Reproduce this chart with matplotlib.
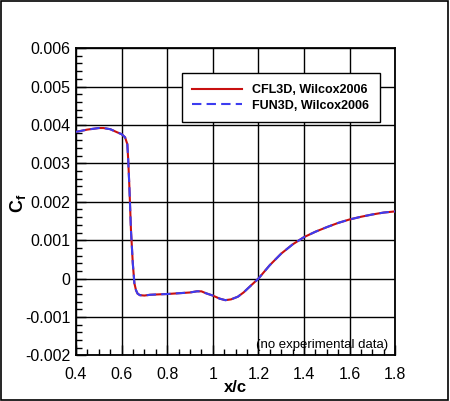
import matplotlib
matplotlib.use('Agg')
import matplotlib.pyplot as plt
from matplotlib.patches import Rectangle

plt.rcParams['font.family'] = ['Liberation Sans', 'DejaVu Sans']
plt.rcParams['mathtext.fontset'] = 'custom'
plt.rcParams['mathtext.bf'] = 'Liberation Sans:bold'
plt.rcParams['mathtext.rm'] = 'Liberation Sans'

# ---------- data ----------
xc = [0.40, 0.45, 0.50, 0.52, 0.55, 0.58, 0.60, 0.615, 0.625, 0.629,
      0.634, 0.641, 0.649, 0.656, 0.663, 0.670, 0.68, 0.70, 0.725, 0.76,
      0.80, 0.85, 0.90, 0.93, 0.95, 0.97, 1.00, 1.03, 1.055, 1.08,
      1.11, 1.135, 1.16, 1.20, 1.25, 1.30, 1.35, 1.40, 1.45, 1.50,
      1.55, 1.60, 1.65, 1.70, 1.75, 1.80]
cf_cfl3d = [0.00382, 0.00388, 0.00392, 0.00392, 0.00389, 0.00381, 0.00376, 0.00368, 0.00350, 0.00308,
            0.00239, 0.00126, 0.00040, -0.00012, -0.00030, -0.00039, -0.00043, -0.00044, -0.00042, -0.00041,
            -0.00040, -0.00038, -0.00036, -0.00033, -0.00033, -0.00038, -0.00044, -0.00052, -0.00056, -0.00054,
            -0.00047, -0.00036, -0.00022, 0.00000, 0.00035, 0.00065, 0.00089, 0.00108, 0.00122, 0.00134,
            0.00145, 0.00154, 0.00161, 0.00167, 0.00172, 0.00175]
cf_fun3d = [0.00382, 0.00388, 0.00392, 0.00392, 0.00389, 0.00381, 0.00376, 0.00368, 0.00350, 0.00308,
            0.00239, 0.00126, 0.00040, -0.00012, -0.00030, -0.00039, -0.00043, -0.00044, -0.00042, -0.00041,
            -0.00040, -0.00038, -0.00036, -0.00033, -0.00033, -0.00038, -0.00044, -0.00052, -0.00056, -0.00054,
            -0.00047, -0.00036, -0.00022, 0.00000, 0.00035, 0.00065, 0.00089, 0.00108, 0.00122, 0.00134,
            0.00145, 0.00154, 0.00161, 0.00167, 0.00172, 0.00175]
labels = ['CFL3D, Wilcox2006', 'FUN3D, Wilcox2006']
xticks = [0.4, 0.6, 0.8, 1.0, 1.2, 1.4, 1.6, 1.8]
xticklabels = ['0.4', '0.6', '0.8', '1', '1.2', '1.4', '1.6', '1.8']
yticks = [-0.002, -0.001, 0, 0.001, 0.002, 0.003, 0.004, 0.005, 0.006]
yticklabels = ['-0.002', '-0.001', '0', '0.001', '0.002', '0.003', '0.004', '0.005', '0.006']

# ---------- plot ----------
fig = plt.figure(figsize=(4.5, 4.01), dpi=100)
ax = fig.add_axes([0.169, 0.1135, 0.709, 0.7665])

ax.plot(xc, cf_cfl3d, color='#c81010', lw=1.5, label=labels[0], zorder=3)
ax.plot(xc, cf_fun3d, color='#3c3cf0', lw=1.5, dashes=(4.5, 2.5), label=labels[1], zorder=4)

ax.set_xlim(0.4, 1.8)
ax.set_ylim(-0.002, 0.006)
ax.set_xticks(xticks)
ax.set_xticklabels(xticklabels)
ax.set_yticks(yticks)
ax.set_yticklabels(yticklabels)
ax.set_xticks([0.4 + 0.05 * i for i in range(29)], minor=True)
ax.set_yticks([-0.002 + 0.0002 * i for i in range(41)], minor=True)
ax.tick_params(which='both', direction='in', top=False, right=False, width=1, color='black')
ax.tick_params(which='major', length=7, labelsize=11.5)
ax.tick_params(axis='y', which='major', pad=4)
ax.tick_params(axis='x', which='major', pad=8)
ax.tick_params(which='minor', length=4)
ax.grid(True, which='major', color='black', lw=1)
for s in ax.spines.values():
    s.set_linewidth(1.3)

ax.text(0.5, -0.105, 'x/c', transform=ax.transAxes, ha='center', va='center',
        fontsize=12, fontweight='bold')
fig.text(18 / 450, 1 - 203 / 401, r'$\mathbf{C}_{\mathbf{f}}$', rotation=90, ha='center', va='center', fontsize=13)
ax.text(322, -0.00173, '(no experimental data)', ha='center', va='center', fontsize=9.5,
        transform=matplotlib.transforms.blended_transform_factory(
            matplotlib.transforms.IdentityTransform(), ax.transData))

leg = ax.legend(loc='upper left', bbox_to_anchor=(0.331, 0.918), borderaxespad=0,
                fancybox=False, edgecolor='black', framealpha=1, fontsize=9,
                handlelength=4.0, handletextpad=0.8, borderpad=0.85, labelspacing=0.3)
leg.get_frame().set_linewidth(1)
for t in leg.get_texts():
    t.set_fontweight('bold')

fig.patches.append(Rectangle((0.002, 0.003), 0.994, 0.994, transform=fig.transFigure,
                             fill=False, edgecolor='black', lw=1.2))

fig.savefig('out.png', dpi=100)
